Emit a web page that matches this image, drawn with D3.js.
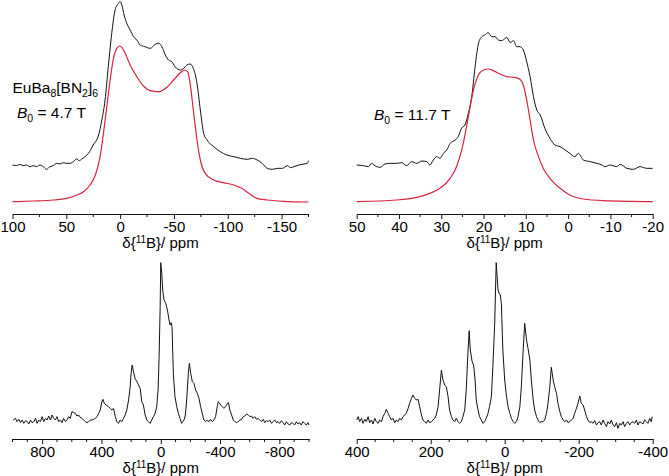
<!DOCTYPE html>
<html><head><meta charset="utf-8">
<script src="https://cdn.jsdelivr.net/npm/d3@7"></script>
<style>body{margin:0;background:#fff}svg{display:block;font-family:"Liberation Sans",Arial,sans-serif}</style>
</head><body>
<svg id="c" width="669" height="476"></svg>
<script>
// ---------- data: [chemical shift (ppm), intensity (a.u.)] ----------
const p1Exp = [[100,120],[96.3,118],[93.2,122],[90.1,118],[87,120],[83.9,115],[80.7,118],[77.6,115],[74.5,120],[71.4,115],[68.3,107],[65.2,115],[62.1,118],[59,125],[55.9,123],[52.8,127],[49.7,125],[46.6,125],[43.5,130],[40.4,138],[37.9,133],[35.7,138],[32.6,145],[29.5,155],[25,180],[20,210],[17,255],[14,315],[11,415],[7.8,515],[4.7,585],[1.6,605],[0,610],[-1.6,600],[-3.7,570],[-6.2,545],[-9.3,525],[-12.4,505],[-15.5,495],[-18.6,480],[-23,475],[-28,470],[-32.6,482],[-35.7,485],[-38.8,475],[-42,450],[-45,435],[-48,430],[-51,415],[-56,405],[-59,410],[-62,420],[-65,423],[-68,410],[-71.4,365],[-74.5,285],[-77.6,215],[-80.7,195],[-87,175],[-93,160],[-99,150],[-105.6,145],[-111.8,140],[-118,137],[-122.7,140],[-127.3,135],[-132,125],[-136.6,110],[-141.3,107],[-146,110],[-150.6,110],[-155.3,118],[-158.4,112],[-161.5,115],[-166.1,120],[-170.8,123],[-173.9,125],[-175,133]];
const p1Sim = [[100,10],[80.7,12],[62,15],[50,20],[40,30],[34,40],[28,60],[23,90],[18.6,145],[15.5,215],[12.4,295],[9.3,375],[6.2,440],[3.1,470],[0.5,477],[-1.6,473],[-4.7,455],[-9.3,420],[-15.5,385],[-21.7,357],[-28,343],[-35.7,340],[-43.5,353],[-49.7,375],[-56,397],[-60,405],[-62.7,400],[-65,365],[-68,285],[-71.4,195],[-74.5,135],[-79,95],[-87,75],[-96,67],[-105.6,60],[-113,50],[-119.6,35],[-127,20],[-136.6,15],[-152,11],[-175,9]];
const p2Exp = [[50,120],[48.4,118],[47.2,115],[46.5,125],[45.7,118],[44.5,113],[43.3,123],[42.1,125],[40.5,125],[39.4,127],[38.2,118],[37,130],[35.8,125],[34.6,132],[33.4,130],[32.7,120],[31.9,135],[31.1,145],[30.3,140],[29.5,155],[28.7,165],[27.9,185],[26.7,195],[26,205],[25.2,230],[24.4,240],[23.6,275],[22.8,325],[22,415],[21.2,485],[20.4,505],[19.7,510],[18.9,517],[18.1,505],[17.3,505],[16.5,495],[15.7,493],[14.9,500],[14.5,503],[13.7,487],[12.9,493],[12.2,475],[11.4,475],[10.6,465],[9.8,430],[9,385],[8.2,325],[7.4,285],[6.6,270],[5.5,230],[4.3,200],[3.1,180],[1.9,175],[0.7,165],[-0.4,155],[-1.6,145],[-2.4,155],[-3.6,135],[-5.2,130],[-6.8,125],[-8,120],[-8.7,115],[-9.9,120],[-11.5,115],[-12.3,122],[-13.9,110],[-15.4,107],[-17,115],[-18.6,110],[-20,110]];
const p2Sim = [[50,10],[40.5,15],[35.8,23],[32.7,35],[30.3,50],[27.9,80],[26.4,115],[24.8,185],[23.6,265],[22.4,345],[21.2,390],[20,405],[18.9,408],[17.7,403],[16.1,393],[14.5,385],[12.6,383],[11.4,377],[10.6,360],[9.8,315],[9,255],[8.2,195],[7,145],[5.9,110],[4.3,80],[1.9,50],[-0.4,30],[-3.6,18],[-8.3,13],[-20,10]];
const p3Exp = [[995,60],[980,65],[969,55],[957,62],[946,52],[935,60],[924,50],[912,58],[901,55],[890,48],[879,60],[868,52],[856,55],[845,65],[834,50],[823,60],[812,55],[800,70],[789,55],[778,65],[767,60],[756,72],[744,60],[733,75],[722,65],[711,60],[700,70],[688,55],[677,60],[666,52],[655,65],[643,55],[632,60],[621,70],[610,65],[599,85],[587,82],[576,80],[565,72],[554,75],[543,68],[531,65],[520,60],[509,55],[498,52],[487,55],[475,60],[464,60],[453,62],[442,65],[430,70],[419,80],[408,90],[397,115],[390,122],[381,110],[368,105],[352,100],[341,95],[330,90],[318,95],[307,70],[296,55],[285,50],[274,60],[262,55],[251,65],[240,75],[229,90],[217,120],[206,160],[200,200],[193,225],[184,205],[173,185],[161,175],[150,165],[139,155],[128,115],[117,105],[105,75],[94,60],[83,55],[72,50],[61,60],[49,70],[38,80],[27,100],[18,150],[11,250],[4,400],[0,532],[-7,500],[-13,450],[-22,420],[-34,410],[-45,390],[-56,360],[-63,345],[-70,352],[-76,340],[-85,200],[-96,130],[-108,100],[-119,80],[-130,65],[-141,50],[-148,55],[-157,60],[-166,75],[-175,120],[-186,200],[-193,230],[-202,200],[-213,175],[-224,170],[-235,150],[-247,140],[-258,125],[-269,100],[-280,80],[-291,60],[-303,55],[-314,60],[-325,55],[-336,62],[-348,55],[-359,60],[-370,70],[-381,100],[-388,115],[-395,112],[-404,105],[-415,100],[-426,95],[-437,100],[-448,108],[-457,112],[-466,90],[-478,75],[-489,60],[-500,55],[-511,52],[-522,55],[-534,60],[-545,62],[-556,70],[-567,72],[-578,78],[-590,75],[-601,70],[-612,72],[-623,65],[-634,70],[-646,62],[-657,65],[-668,60],[-679,55],[-691,62],[-702,52],[-713,58],[-724,55],[-735,60],[-747,50],[-758,55],[-769,60],[-780,52],[-791,55],[-803,50],[-814,58],[-825,52],[-836,45],[-847,55],[-859,48],[-870,45],[-881,52],[-892,50],[-903,45],[-915,55],[-926,48],[-937,52],[-948,45],[-959,55],[-970,50],[-982,45],[-993,52],[-1000,45]];
const p4Exp = [[400,60],[396,70],[392,55],[387,65],[383,50],[378,62],[374,55],[369,70],[365,52],[360,60],[356,48],[351,65],[347,55],[342,50],[338,60],[333,55],[329,70],[324,80],[320,92],[315,80],[311,70],[306,60],[302,65],[297,52],[293,60],[288,55],[284,65],[279,60],[275,70],[270,75],[266,80],[261,95],[257,110],[252,125],[248,135],[243,125],[239,120],[234,122],[230,100],[225,75],[221,60],[216,55],[212,50],[207,60],[203,52],[198,55],[194,60],[189,65],[185,75],[180,100],[176,150],[171,210],[167,180],[162,165],[158,160],[153,130],[149,90],[144,70],[140,60],[135,55],[131,65],[126,55],[122,50],[117,55],[113,70],[108,90],[104,150],[99,270],[96,328],[93,270],[88,235],[84,225],[80,180],[77,120],[72,90],[68,70],[63,60],[59,50],[54,55],[50,65],[45,80],[41,100],[36,130],[32,220],[27,350],[23,532],[18,450],[15,440],[12,435],[9,410],[5,270],[0,180],[-5,130],[-9,100],[-14,80],[-18,65],[-23,55],[-27,50],[-32,55],[-36,70],[-41,100],[-45,160],[-50,270],[-54,350],[-59,300],[-63,275],[-68,240],[-72,180],[-77,120],[-81,90],[-86,70],[-90,60],[-95,52],[-99,55],[-104,55],[-108,60],[-113,80],[-117,110],[-122,160],[-126,218],[-131,180],[-135,160],[-140,140],[-144,110],[-149,85],[-153,70],[-158,60],[-162,55],[-167,60],[-171,52],[-176,55],[-180,60],[-185,65],[-189,80],[-194,95],[-198,110],[-203,132],[-207,110],[-212,105],[-216,90],[-221,70],[-225,60],[-230,52],[-234,55],[-239,50],[-243,58],[-248,45],[-252,52],[-257,55],[-261,45],[-266,60],[-270,50],[-275,40],[-279,55],[-284,48],[-288,60],[-293,45],[-297,40],[-302,52],[-306,35],[-311,50],[-315,45],[-320,55],[-324,40],[-329,50],[-333,55],[-338,45],[-342,52],[-347,55],[-351,50],[-356,60],[-360,45],[-365,55],[-369,52],[-374,48],[-378,60],[-383,55],[-387,50],[-392,65],[-396,55],[-399,70]];

// axis domains and ticks
const p1Domain = [100, -175], p1Major = [100, 50, 0, -50, -100, -150], p1Minor = [75, 25, -25, -75, -125, -175];
const p2Domain = [50, -20], p2Major = [50, 40, 30, 20, 10, 0, -10, -20], p2Minor = [45, 35, 25, 15, 5, -5, -15];
const p3Domain = [1000, -1000], p3Major = [800, 400, 0, -400, -800], p3Minor = [1000, 900, 700, 600, 500, 300, 200, 100, -100, -200, -300, -500, -600, -700, -900, -1000];
const p4Domain = [400, -400], p4Major = [400, 200, 0, -200, -400], p4Minor = [350, 300, 250, 150, 100, 50, -50, -100, -150, -250, -300, -350];

const svg = d3.select("#c");
const RED = "#d8243d", BLK = "#111";

function panel(cfg) {
  const x = d3.scaleLinear().domain(cfg.domain).range(cfg.xr);
  const y = d3.scaleLinear().domain(cfg.yd).range(cfg.yr);
  const g = svg.append("g");
  cfg.series.forEach(s => {
    g.append("path").datum(s.data)
      .attr("fill", "none").attr("stroke", s.color).attr("stroke-width", s.w)
      .attr("stroke-linejoin", "round")
      .attr("d", d3.line().x(d => x(d[0])).y(d => y(d[1])).curve(s.curve)(s.data));
  });
  const ax = g.append("g").attr("transform", `translate(0,${cfg.axisY})`)
    .call(d3.axisBottom(x).tickValues(cfg.major).tickSize(5).tickSizeOuter(0).tickPadding(2).tickFormat(d => String(d)));
  ax.select(".domain").attr("stroke", BLK).attr("stroke-width", 1);
  ax.selectAll(".tick line").attr("stroke", BLK);
  ax.selectAll(".tick text").attr("font-size", 15).attr("fill", "#000").attr("font-family", "Liberation Sans, Arial, sans-serif");
  ax.selectAll(".minor").data(cfg.minor).enter().append("line")
    .attr("x1", d => x(d)).attr("x2", d => x(d)).attr("y1", 0).attr("y2", 3).attr("stroke", BLK);
  const t = g.append("text").attr("x", (cfg.xr[0] + cfg.xr[1]) / 2).attr("y", cfg.titleY)
    .attr("text-anchor", "middle").attr("font-size", 15).attr("fill", "#000");
  t.append("tspan").text("δ{");
  t.append("tspan").attr("font-size", 10).attr("dy", -5).text("11");
  t.append("tspan").attr("dy", 5).text("B}/ ppm");
}

panel({domain: p1Domain, xr: [12.5, 308.5], yd: [0, 615], yr: [205, 0], axisY: 214, titleY: 247.5,
  major: p1Major, minor: p1Minor,
  series: [{data: p1Exp, color: BLK, w: 1, curve: d3.curveMonotoneX}, {data: p1Sim, color: RED, w: 1.2, curve: d3.curveMonotoneX}]});
panel({domain: p2Domain, xr: [356.7, 652.7], yd: [0, 615], yr: [205, 0], axisY: 214, titleY: 247.5,
  major: p2Major, minor: p2Minor,
  series: [{data: p2Exp, color: BLK, w: 1, curve: d3.curveMonotoneX}, {data: p2Sim, color: RED, w: 1.2, curve: d3.curveMonotoneX}]});
panel({domain: p3Domain, xr: [12.5, 309], yd: [0, 600], yr: [440, 240], axisY: 439, titleY: 472.5,
  major: p3Major, minor: p3Minor,
  series: [{data: p3Exp, color: BLK, w: 1, curve: d3.curveLinear}]});
panel({domain: p4Domain, xr: [356.7, 652.7], yd: [0, 600], yr: [440, 240], axisY: 439, titleY: 472.5,
  major: p4Major, minor: p4Minor,
  series: [{data: p4Exp, color: BLK, w: 1, curve: d3.curveLinear}]});

// labels
const lab1 = svg.append("text").attr("x", 12.5).attr("y", 93).attr("font-size", 15.5).attr("fill", "#000");
lab1.append("tspan").text("EuBa");
lab1.append("tspan").attr("font-size", 10.5).attr("dy", 4).text("8");
lab1.append("tspan").attr("dy", -4).text("[BN");
lab1.append("tspan").attr("font-size", 10.5).attr("dy", 4).text("2");
lab1.append("tspan").attr("dy", -4).text("]");
lab1.append("tspan").attr("font-size", 10.5).attr("dy", 4).text("6");

function bLabel(xp, yp, val) {
  const t = svg.append("text").attr("x", xp).attr("y", yp).attr("font-size", 15.5).attr("fill", "#000");
  t.append("tspan").attr("font-style", "italic").text("B");
  t.append("tspan").attr("font-size", 10.5).attr("dy", 4).text("0");
  t.append("tspan").attr("dy", -4).text(" = " + val + " T");
}
bLabel(17, 118, "4.7");
bLabel(374, 120, "11.7");
</script>
</body></html>
